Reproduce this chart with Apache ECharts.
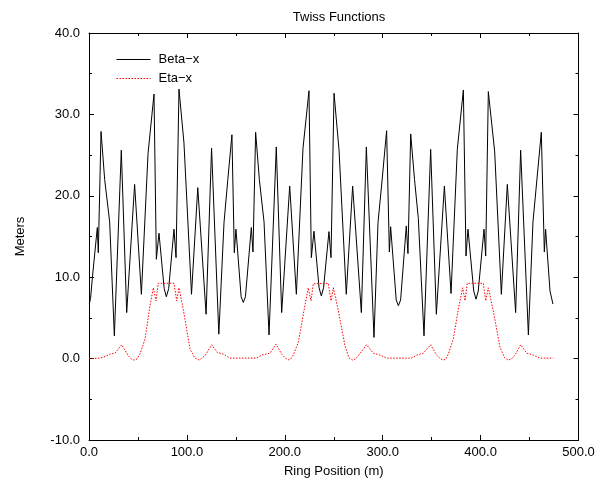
<!DOCTYPE html>
<html>
<head>
<meta charset="utf-8">
<script src="https://cdn.jsdelivr.net/npm/echarts@6/dist/echarts.min.js"></script>
<style>
  html, body { margin: 0; padding: 0; background: #fff; }
  #chart { width: 606px; height: 483px; }
</style>
</head>
<body>
<div id="chart"></div>
<script>
// positions along the ring (m) and values (m)
var betaPos = [0.3, 1.6, 3.4, 8.5, 9.5, 12.3, 16.0, 21.1, 25.9, 33.0, 38.5, 46.6, 53.5, 60.3, 66.4, 68.8, 71.5, 76.8, 79.0, 81.4, 86.8, 88.9, 91.9, 97.0,
  104.7, 111.1, 119.6, 125.2, 132.6, 137.9, 141.8, 146.0, 148.4, 150.1, 155.4, 157.6, 159.8, 165.8, 167.5, 170.2, 174.0, 178.8, 183.9, 191.3, 196.8,
  205.0, 211.8, 218.6, 224.7, 227.1, 229.8, 235.0, 237.3, 239.6, 245.1, 247.2, 250.3, 255.4, 262.8, 269.3, 278.2, 283.3, 291.1, 295.2, 299.6, 304.0,
  306.8, 308.1, 313.8, 316.0, 318.3, 324.1, 325.8, 328.6, 332.5, 336.4, 342.2, 349.0, 354.8, 363.0, 369.8, 376.2, 382.4, 385.1, 387.1, 393.0, 395.3,
  397.6, 403.5, 405.2, 407.9, 414.4, 421.2, 427.3, 435.8, 440.9, 448.8, 453.5, 462.0, 465.1, 466.4, 470.9, 473.9];
var betaVal = [6.7, 7.4, 9.9, 16.1, 13.0, 27.9, 22.0, 16.8, 2.8, 25.6, 5.65, 21.4, 7.9, 25.2, 32.5, 12.2, 15.4, 8.6, 7.6, 8.6, 15.9, 12.4, 33.1, 26.5,
  7.9, 21.0, 5.45, 25.85, 3.0, 16.7, 22.0, 27.5, 13.0, 15.9, 7.6, 6.9, 7.6, 16.1, 13.1, 27.8, 22.0, 16.8, 2.9, 26.0, 5.65,
  21.2, 7.9, 25.85, 32.9, 12.4, 15.65, 8.7, 7.7, 8.7, 15.6, 12.4, 32.6, 25.6, 7.9, 21.2, 5.65, 26.0, 2.6, 16.7, 22.2, 28.0,
  13.1, 16.2, 7.2, 6.5, 7.2, 16.3, 12.9, 27.6, 22.0, 17.2, 2.8, 25.7, 5.45, 21.2, 8.0, 25.7, 33.0, 12.6, 15.9, 8.3, 7.3,
  8.3, 15.9, 12.6, 32.8, 25.4, 7.9, 21.4, 5.65, 25.6, 2.9, 16.8, 27.8, 13.1, 15.9, 8.3, 6.7];

var etaPos = [0, 10.0, 14.6, 21.4, 26.6, 33.4, 40.2, 43.5, 46.0, 49.0, 52.1, 57.2, 62.3, 65.7, 68.4, 70.8, 86.8, 89.6, 91.9, 96.3, 103.2, 108.0, 112.4,
  118.5, 125.3, 131.1, 137.2, 144.0, 171.3, 176.4, 184.9, 191.0, 196.8, 200.5, 203.6, 206.0, 208.7, 213.8, 218.9, 224.0, 226.8, 229.1, 244.4, 247.2,
  249.6, 254.7, 261.5, 265.5, 269.3, 272.0, 275.1, 283.6, 290.4, 297.2, 304.1, 329.6, 334.7, 341.5, 349.0, 355.1, 358.8, 361.9, 364.5, 367.0, 372.1,
  377.2, 381.7, 384.1, 386.4, 402.8, 405.2, 407.9, 413.0, 419.8, 424.5, 428.3, 431.5, 435.1, 440.9, 447.1, 453.8, 460.7, 474.3];
var etaVal = [0, 0.05, 0.15, 0.55, 0.67, 1.7, 0.35, -0.1, -0.18, -0.05, 0.55, 2.4, 6.5, 8.7, 7.1, 9.25, 9.25, 7.1, 8.7, 6.05, 1.16, 0.1, -0.18,
  0.35, 1.7, 0.75, 0.55, 0.06, 0.06, 0.43, 0.67, 1.78, 0.55, 0.05, -0.15, -0.05, 0.43, 2.0, 5.45, 8.7, 7.1, 9.2, 9.25, 7.1,
  8.7, 5.85, 1.57, 0.1, -0.18, -0.05, 0.35, 1.7, 0.67, 0.43, 0.06, 0.06, 0.43, 0.67, 1.7, 0.43, 0.0, -0.18, -0.05, 0.55, 2.4,
  6.05, 8.7, 7.1, 9.25, 9.25, 7.1, 8.7, 5.85, 1.4, 0.1, -0.18, -0.05, 0.43, 1.7, 0.67, 0.43, 0.06, 0.06];

var xTicks = [0, 100, 200, 300, 400, 500];
var yTicks = [-10, 0, 10, 20, 30, 40];

function pairs(xs, ys) {
  return xs.map(function (x, i) { return [x, ys[i]]; });
}

var chart = echarts.init(document.getElementById('chart'));
var font = 'Liberation Sans, Arial, sans-serif';

function xAxisCfg(pos, showLabel) {
  return {
    type: 'value',
    position: pos,
    min: xTicks[0],
    max: xTicks[xTicks.length - 1],
    interval: 100,
    axisLine: { show: true, onZero: false, lineStyle: { color: '#000', width: 1 } },
    axisTick: { show: true, inside: true, length: 5, lineStyle: { color: '#000' } },
    minorTick: { show: true, splitNumber: 2, length: 3, lineStyle: { color: '#000' } },
    splitLine: { show: false },
    axisLabel: {
      show: showLabel,
      color: '#000',
      fontFamily: font,
      fontSize: 13,
      margin: 6,
      formatter: function (v) { return v.toFixed(1); }
    }
  };
}

function yAxisCfg(pos, showLabel) {
  return {
    type: 'value',
    position: pos,
    min: yTicks[0],
    max: yTicks[yTicks.length - 1],
    interval: 10,
    axisLine: { show: true, onZero: false, lineStyle: { color: '#000', width: 1 } },
    axisTick: { show: true, inside: true, length: 5, lineStyle: { color: '#000' } },
    minorTick: { show: true, splitNumber: 2, length: 3, lineStyle: { color: '#000' } },
    splitLine: { show: false },
    axisLabel: {
      show: showLabel,
      color: '#000',
      fontFamily: font,
      fontSize: 13,
      margin: 9,
      formatter: function (v) { return v.toFixed(1); }
    }
  };
}

var xBottom = xAxisCfg('bottom', true);
xBottom.name = 'Ring Position (m)';
xBottom.nameLocation = 'middle';
xBottom.nameGap = 25;
xBottom.nameTextStyle = { color: '#000', fontFamily: font, fontSize: 13 };

var yLeft = yAxisCfg('left', true);
yLeft.name = 'Meters';
yLeft.nameLocation = 'middle';
yLeft.nameGap = 62;
yLeft.nameRotate = 90;
yLeft.nameTextStyle = { color: '#000', fontFamily: font, fontSize: 13 };

var option = {
  backgroundColor: '#fff',
  animation: false,
  title: {
    text: 'Twiss Functions',
    left: 334,
    top: 6,
    textAlign: 'center',
    textStyle: { color: '#000', fontFamily: font, fontSize: 13, fontWeight: 'normal' }
  },
  legend: {
    data: ['Beta\u2212x', 'Eta\u2212x'],
    orient: 'vertical',
    left: 111,
    top: 48,
    itemWidth: 34,
    itemHeight: 12,
    itemGap: 6,
    itemStyle: { opacity: 0 },
    lineStyle: { width: 1 },
    textStyle: { color: '#000', fontFamily: font, fontSize: 13, padding: [0, 0, 0, 3] }
  },
  grid: { left: 89, right: 27.5, top: 33, bottom: 42 },
  xAxis: [xBottom, xAxisCfg('top', false)],
  yAxis: [yLeft, yAxisCfg('right', false)],
  series: [
    {
      name: 'Beta\u2212x',
      type: 'line',
      symbol: 'none',
      data: pairs(betaPos, betaVal),
      lineStyle: { color: '#000', width: 1 },
      itemStyle: { color: '#000' }
    },
    {
      name: 'Eta\u2212x',
      type: 'line',
      symbol: 'none',
      data: pairs(etaPos, etaVal),
      lineStyle: { color: '#ff0000', width: 1, type: [1.5, 1.5] },
      itemStyle: { color: '#ff0000' }
    }
  ]
};

chart.setOption(option);
</script>
</body>
</html>
